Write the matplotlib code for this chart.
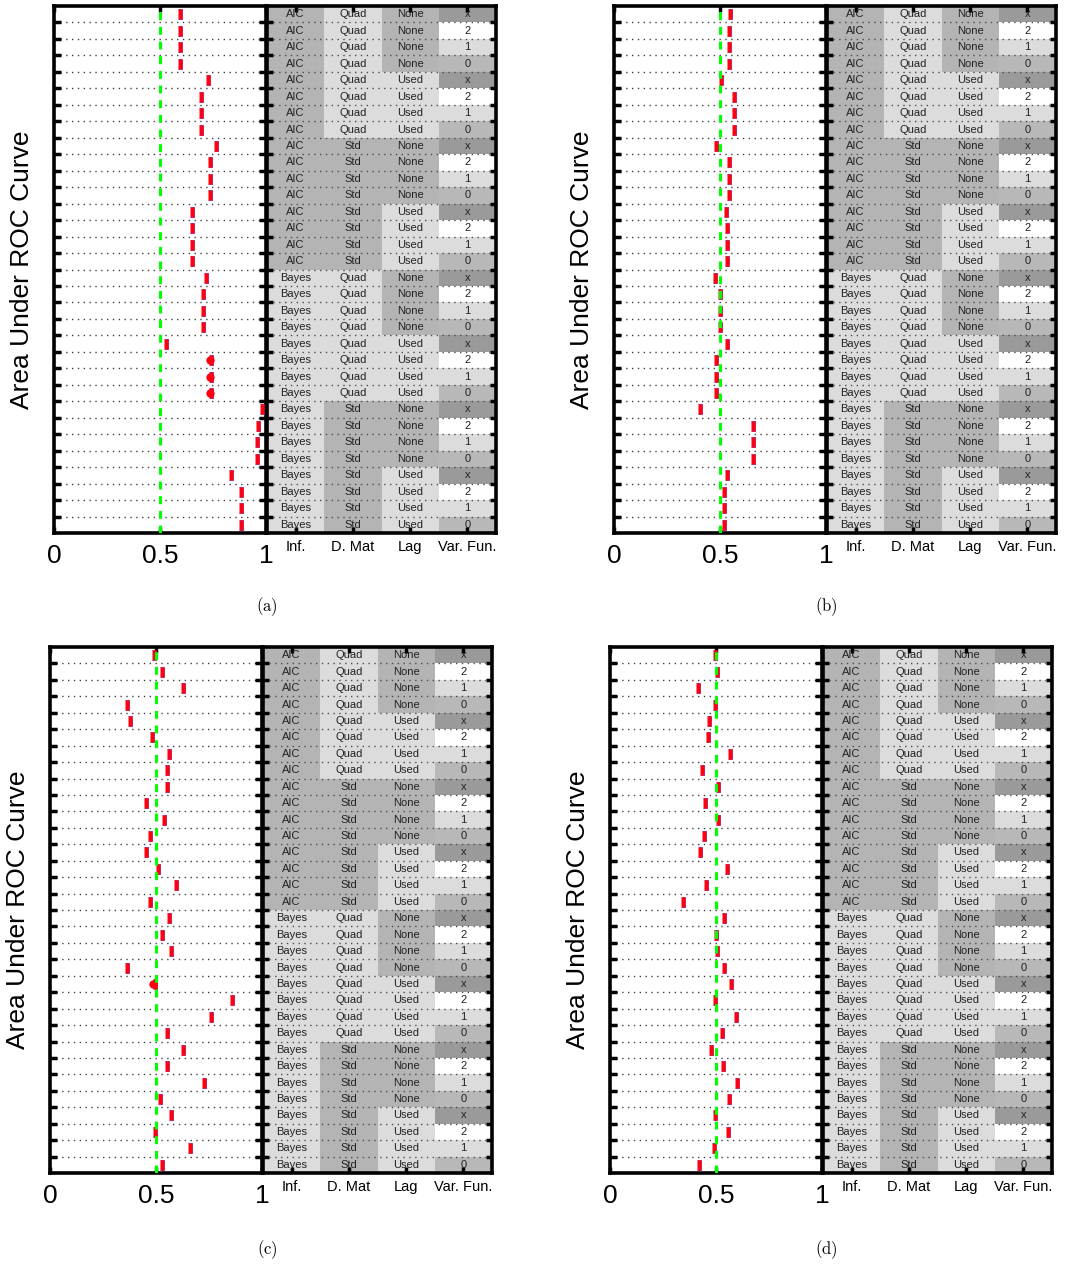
import matplotlib
matplotlib.use("Agg")
import matplotlib.pyplot as plt
import numpy as np

plt.rcParams['font.family'] = ['Liberation Sans', 'DejaVu Sans']
plt.rcParams['mathtext.fontset'] = 'cm'

# ---------------- data ----------------
inf_col = ['AIC'] * 16 + ['Bayes'] * 16
dmat_col = (['Quad'] * 8 + ['Std'] * 8) * 2
lag_col = (['None'] * 4 + ['Used'] * 4) * 4
varfun_col = ['x', '2', '1', '0'] * 8

col_labels = ['Inf.', 'D. Mat', 'Lag', 'Var. Fun.']
x_ticks = [0, 0.5, 1]
x_ticklabels = ['0', '0.5', '1']
ylabel = 'Area Under ROC Curve'
captions = ['(a)', '(b)', '(c)', '(d)']

auc_a = [0.595, 0.595, 0.595, 0.595, 0.727, 0.694, 0.694, 0.694,
         0.762, 0.738, 0.738, 0.738, 0.649, 0.649, 0.649, 0.649,
         0.716, 0.705, 0.705, 0.705, 0.527, 0.740, 0.740, 0.740,
         0.981, 0.960, 0.958, 0.958, 0.836, 0.881, 0.881, 0.881]
auc_b = [0.546, 0.541, 0.541, 0.541, 0.503, 0.565, 0.565, 0.565,
         0.480, 0.541, 0.541, 0.541, 0.526, 0.532, 0.532, 0.532,
         0.478, 0.500, 0.500, 0.500, 0.533, 0.481, 0.481, 0.481,
         0.405, 0.654, 0.654, 0.654, 0.535, 0.519, 0.519, 0.519]
auc_c = [0.492, 0.529, 0.627, 0.362, 0.375, 0.483, 0.562, 0.551,
         0.551, 0.451, 0.540, 0.473, 0.451, 0.508, 0.595, 0.473,
         0.562, 0.529, 0.573, 0.362, 0.494, 0.860, 0.760, 0.551,
         0.627, 0.551, 0.727, 0.518, 0.573, 0.494, 0.660, 0.529]
auc_d = [0.494, 0.505, 0.414, 0.494, 0.467, 0.462, 0.564, 0.435,
         0.508, 0.446, 0.511, 0.443, 0.424, 0.552, 0.452, 0.346,
         0.538, 0.500, 0.505, 0.538, 0.570, 0.494, 0.592, 0.527,
         0.476, 0.532, 0.597, 0.562, 0.494, 0.556, 0.490, 0.419]
# rows (1-based) whose box shows a wider spread blob
wide_a = [22, 23, 24]
wide_b = []
wide_c = [21]
wide_d = []

# ---------------- style ----------------
inf_colors = {'AIC': '#b4b4b4', 'Bayes': '#dcdcdc'}
dmat_colors = {'Quad': '#dcdcdc', 'Std': '#b4b4b4'}
lag_colors = {'None': '#b4b4b4', 'Used': '#dcdcdc'}
vf_colors = {'x': '#9a9a9a', '2': '#ffffff', '1': '#dcdcdc', '0': '#b8b8b8'}
col_maps = [inf_colors, dmat_colors, lag_colors, vf_colors]
columns = [inf_col, dmat_col, lag_col, varfun_col]

W, H = 1067, 1266
fig = plt.figure(figsize=(W / 100, H / 100), dpi=100)


def add_ax(l, t, r, b):
    return fig.add_axes([l / W, 1 - b / H, (r - l) / W, (b - t) / H])


n = len(inf_col)
rows = np.arange(1, n + 1)
bounds = np.arange(1.5, n, 1.0)
rect = [(-0.4, -1), (0.4, -1), (0.4, 1), (-0.4, 1)]

panels = [
    (auc_a, wide_a, (54, 6, 266, 533), (267, 6, 496, 533), 22, 267, 607),
    (auc_b, wide_b, (614, 6, 826, 533), (827, 6, 1056, 533), 582, 826, 607),
    (auc_c, wide_c, (50, 647, 262, 1173), (263, 647, 492, 1173), 18, 267, 1250),
    (auc_d, wide_d, (610, 647, 822, 1173), (823, 647, 1052, 1173), 578, 826, 1250),
]

for k, (vals, wide, pbox, tbox, ylx, capx, capy) in enumerate(panels):
    ax = add_ax(*pbox)
    ax.set_xlim(0, 1)
    ax.set_ylim(n + 0.5, 0.5)
    for b in bounds:
        ax.axhline(b, color='0.25', lw=1.0, ls=(0, (1, 3.2)), zorder=1)
    ax.plot(vals, rows, ls='none', marker=rect, ms=7.2, mfc='#ff0010',
            mec='#b0004a', mew=0.5, zorder=3)
    if wide:
        wv = [vals[i - 1] - 0.006 for i in wide]
        ax.plot(wv, wide, ls='none', marker='o', ms=5, mfc='#ff0010',
                mec='#ff0010', zorder=3)
    ax.axvline(0.5, color='#00ff00', lw=2.2, dashes=(2.6, 2.2), zorder=4)
    ax.set_xticks(x_ticks)
    ax.set_xticklabels(x_ticklabels, fontsize=19)
    ax.set_yticks(bounds)
    ax.set_yticklabels([])
    ax.tick_params(axis='x', direction='in', top=True, bottom=True,
                   length=4, width=2.5, pad=8)
    ax.tick_params(axis='y', direction='in', left=True, right=True,
                   length=5, width=2.5)
    for s in ax.spines.values():
        s.set_linewidth(2.6)

    tx = add_ax(*tbox)
    tx.set_xlim(0, 4)
    tx.set_ylim(n + 0.5, 0.5)
    for c, (colvals, cmap) in enumerate(zip(columns, col_maps)):
        for i, v in enumerate(colvals):
            tx.fill_between([c, c + 1], i + 0.5, i + 1.5, color=cmap[v],
                            lw=0, zorder=0)
            tx.text(c + 0.5, i + 1, v, ha='center', va='center',
                    fontsize=8, color='#222222', zorder=3)
    for b in bounds:
        tx.axhline(b, color='0.3', lw=1.0, ls=(0, (1, 3.2)), zorder=2)
    tx.set_xticks(np.arange(4) + 0.5)
    tx.set_xticklabels(col_labels, fontsize=10.5)
    tx.set_yticks(bounds)
    tx.set_yticklabels([])
    tx.tick_params(axis='x', direction='in', top=True, bottom=True,
                   length=4, width=2.5, pad=5)
    tx.tick_params(axis='y', direction='in', left=True, right=True,
                   length=4, width=2.5)
    for s in tx.spines.values():
        s.set_linewidth(2.6)

    cy = (pbox[1] + pbox[3]) / 2
    fig.text(ylx / W, 1 - cy / H, ylabel, rotation=90, ha='center',
             va='center', fontsize=19)
    fig.text(capx / W, 1 - capy / H, r'$\mathrm{' + captions[k] + '}$',
             ha='center', va='center', fontsize=12)

fig.savefig('out.png', dpi=100)
